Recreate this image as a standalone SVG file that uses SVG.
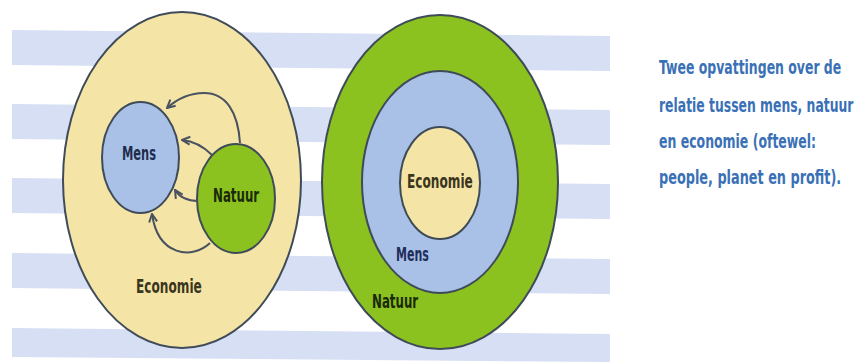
<svg xmlns="http://www.w3.org/2000/svg" width="856" height="362" viewBox="0 0 856 362">
  <defs>
    <style>
      .stripe { fill: #d6dff3; }
      .ring { stroke: #3f4b58; stroke-width: 2; }
      .yellow { fill: #f4e5a6; }
      .blue { fill: #aac1e7; }
      .green { fill: #8cc21f; }
      .lbl { font-family: "DejaVu Sans Condensed", "Liberation Sans Narrow", "DejaVu Sans", sans-serif; font-weight: bold; font-size: 19px; }
      .cap { font-family: "DejaVu Sans Condensed", "Liberation Sans Narrow", "DejaVu Sans", sans-serif; font-weight: bold; font-size: 20px; fill: #3a71b6; }
      .arrow { fill: none; stroke: #4a5160; stroke-width: 2; marker-end: url(#head); }
    </style>
    <marker id="head" viewBox="0 0 10 10" refX="9" refY="5" markerWidth="5" markerHeight="5" orient="auto" markerUnits="strokeWidth">
      <path d="M1,1 L9,5 L1,9" fill="none" stroke="#4a5160" stroke-width="2"/>
    </marker>
  </defs>

  <g id="stripes">
    <polygon class="stripe" points="12,30 610,36 610,71 12,65"/>
    <polygon class="stripe" points="12,104 610,110 610,145 12,139"/>
    <polygon class="stripe" points="12,178 610,184 610,219 12,213"/>
    <polygon class="stripe" points="12,253 610,259 610,294 12,288"/>
    <polygon class="stripe" points="12,328 610,334 610,362 12,357"/>
  </g>

  <g id="economie-left">
    <ellipse class="ring yellow" cx="182" cy="180" rx="119" ry="168"/>
    <text class="lbl" transform="translate(136,293) scale(0.7,1)" fill="#3b3520" textLength="94" lengthAdjust="spacingAndGlyphs">Economie</text>
  </g>

  <g id="mens-left">
    <ellipse class="ring blue" cx="140.5" cy="157.5" rx="38.5" ry="55.5"/>
    <text class="lbl" transform="translate(122,160) scale(0.7,1)" fill="#1f2d4d" textLength="48.5" lengthAdjust="spacingAndGlyphs">Mens</text>
  </g>

  <g id="natuur-left">
    <ellipse class="ring green" cx="236" cy="198.5" rx="39" ry="54.5"/>
    <text class="lbl" transform="translate(213,202) scale(0.7,1)" fill="#1a2a0a" textLength="66" lengthAdjust="spacingAndGlyphs">Natuur</text>
  </g>

  <g id="connectors">
    <path class="arrow" d="M240,143 C238,112 226,93 204,93 C189,93 176,100 167,108"/>
    <path class="arrow" d="M212,155 C203,146 193,141 182,140"/>
    <path class="arrow" d="M198,201 C188,201 180,198 175,190"/>
    <path class="arrow" d="M210,243 C192,260 158,256 152,214"/>
  </g>

  <g id="natuur-right">
    <ellipse class="ring green" cx="440" cy="182" rx="118" ry="167"/>
    <text class="lbl" transform="translate(372,308) scale(0.7,1)" fill="#1a2a0a" textLength="66" lengthAdjust="spacingAndGlyphs">Natuur</text>
  </g>

  <g id="mens-right">
    <ellipse class="ring blue" cx="440" cy="182" rx="78" ry="111"/>
    <text class="lbl" transform="translate(396,261) scale(0.7,1)" fill="#1f2d5a" textLength="47" lengthAdjust="spacingAndGlyphs">Mens</text>
  </g>

  <g id="economie-right">
    <ellipse class="ring yellow" cx="440" cy="183" rx="40" ry="56"/>
    <text class="lbl" transform="translate(407,188) scale(0.7,1)" fill="#3b3520" textLength="94" lengthAdjust="spacingAndGlyphs">Economie</text>
  </g>

  <g id="caption">
    <text class="cap" transform="translate(659,74) scale(0.68,1)" textLength="268" lengthAdjust="spacingAndGlyphs">Twee opvattingen over de</text>
    <text class="cap" transform="translate(659,112) scale(0.68,1)" textLength="286" lengthAdjust="spacingAndGlyphs">relatie tussen mens, natuur</text>
    <text class="cap" transform="translate(659,148) scale(0.68,1)" textLength="231" lengthAdjust="spacingAndGlyphs">en economie (oftewel:</text>
    <text class="cap" transform="translate(659,184) scale(0.68,1)" textLength="268" lengthAdjust="spacingAndGlyphs">people, planet en profit).</text>
  </g>
</svg>
